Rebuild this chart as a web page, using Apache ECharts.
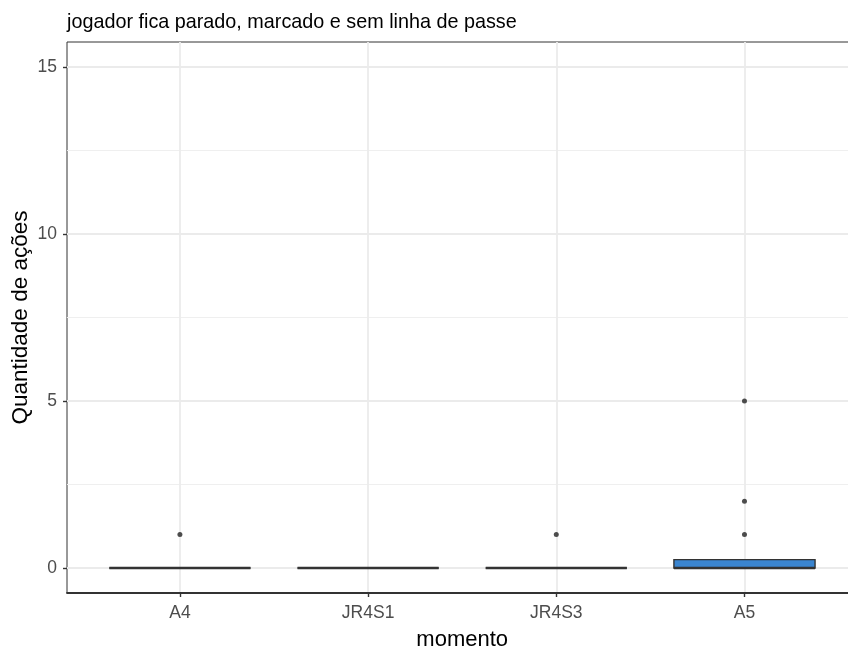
<!DOCTYPE html>
<html>
<head>
<meta charset="utf-8">
<script src="https://cdn.jsdelivr.net/npm/echarts@6/dist/echarts.min.js"></script>
<style>html,body{margin:0;padding:0;background:#fff}#c{width:848px;height:650px}</style>
</head>
<body>
<div id="c"></div>
<script>
var categories = ['A4', 'JR4S1', 'JR4S3', 'A5'];
var q1 = [0, 0, 0, 0];
var median = [0, 0, 0, 0];
var q3 = [0, 0, 0, 0.25];
var whiskerLow = [0, 0, 0, 0];
var whiskerHigh = [0, 0, 0, 0];
var outliersA4 = [1];
var outliersJR4S1 = [];
var outliersJR4S3 = [1];
var outliersA5 = [1, 2, 5];
var yTicks = [0, 5, 10, 15];
var yMinorTicks = [2.5, 7.5, 12.5];

var outlierLists = [outliersA4, outliersJR4S1, outliersJR4S3, outliersA5];
var boxData = categories.map(function (c, i) {
  return [i + 1, q1[i], median[i], q3[i], whiskerLow[i], whiskerHigh[i]];
});
var outlierData = [];
outlierLists.forEach(function (list, i) {
  list.forEach(function (v) { outlierData.push([i + 1, v]); });
});
var xPositions = categories.map(function (c, i) { return i + 1; });

var chart = echarts.init(document.getElementById('c'));
var textCol = '#4D4D4D';
var fontFam = 'Liberation Sans, Arial, sans-serif';

chart.setOption({
  animation: false,
  backgroundColor: '#fff',
  title: {
    text: 'jogador fica parado, marcado e sem linha de passe',
    left: 62, top: 8,
    textStyle: { fontFamily: fontFam, fontSize: 19.8, fontWeight: 'normal', color: '#000' }
  },
  grid: { left: 67, top: 42, right: -9.4, bottom: 57, show: true, borderColor: '#333', borderWidth: 1, backgroundColor: 'transparent', outerBoundsMode: 'none', containLabel: false },
  xAxis: {
    type: 'value', min: 0.4, max: 4.6,
    name: 'momento', nameLocation: 'middle', nameGap: 36, nameMoveOverlap: false,
    nameTextStyle: { fontFamily: fontFam, fontSize: 22, color: '#000' },
    axisLine: { show: true, onZero: false, lineStyle: { color: '#333', width: 1.8 } },
    axisTick: { show: true, length: 4, customValues: xPositions, lineStyle: { color: '#333', width: 1.4 } },
    axisLabel: {
      customValues: xPositions, margin: 11,
      fontFamily: fontFam, fontSize: 17.5, color: textCol,
      formatter: function (v) { return categories[Math.round(v) - 1] || ''; }
    },
    splitLine: { show: true, lineStyle: { color: '#EBEBEB', width: 1.8 } }
  },
  yAxis: [{
    type: 'value', min: -0.75, max: 15.75,
    name: 'Quantidade de ações', nameLocation: 'middle', nameGap: 35, nameMoveOverlap: false,
    nameTextStyle: { fontFamily: fontFam, fontSize: 22.5, color: '#000' },
    axisLine: { show: false },
    axisTick: { show: true, length: 4, customValues: yTicks, lineStyle: { color: '#333', width: 1.4 } },
    axisLabel: { customValues: yTicks, margin: 10, padding: [3, 0, 0, 0], fontFamily: fontFam, fontSize: 17.5, color: textCol },
    splitLine: { show: true, lineStyle: { color: '#EBEBEB', width: 1.8 } }
  }, {
    type: 'value', min: -0.75, max: 15.75, position: 'left',
    axisLine: { show: false },
    axisTick: { show: false, customValues: yMinorTicks },
    axisLabel: { show: false, customValues: yMinorTicks },
    splitLine: { show: true, lineStyle: { color: '#EFEFEF', width: 1 } }
  }],
  series: [{
    type: 'custom',
    data: boxData,
    encode: { x: 0, y: [1, 2, 3, 4, 5] },
    renderItem: function (params, api) {
      var x = api.value(0);
      var halfW = api.size([0.75, 0])[0] / 2;
      var pQ1 = api.coord([x, api.value(1)]);
      var pMed = api.coord([x, api.value(2)]);
      var pQ3 = api.coord([x, api.value(3)]);
      var pLo = api.coord([x, api.value(4)]);
      var pHi = api.coord([x, api.value(5)]);
      var stroke = { stroke: '#333', lineWidth: 1.4 };
      var children = [];
      children.push({ type: 'line', shape: { x1: pHi[0], y1: pHi[1], x2: pQ3[0], y2: pQ3[1] }, style: stroke });
      children.push({ type: 'line', shape: { x1: pLo[0], y1: pLo[1], x2: pQ1[0], y2: pQ1[1] }, style: stroke });
      children.push({ type: 'rect', shape: { x: pQ1[0] - halfW, y: pQ3[1], width: halfW * 2, height: pQ1[1] - pQ3[1] },
        style: { fill: '#3A85D0', stroke: '#333', lineWidth: 1.4 } });
      children.push({ type: 'line', shape: { x1: pMed[0] - halfW, y1: pMed[1], x2: pMed[0] + halfW, y2: pMed[1] },
        style: { stroke: '#333', lineWidth: 2.4 } });
      return { type: 'group', children: children };
    },
    z: 3
  }, {
    type: 'scatter',
    data: outlierData,
    symbol: 'circle', symbolSize: 5,
    itemStyle: { color: '#222' },
    z: 4
  }]
});
</script>
</body>
</html>
